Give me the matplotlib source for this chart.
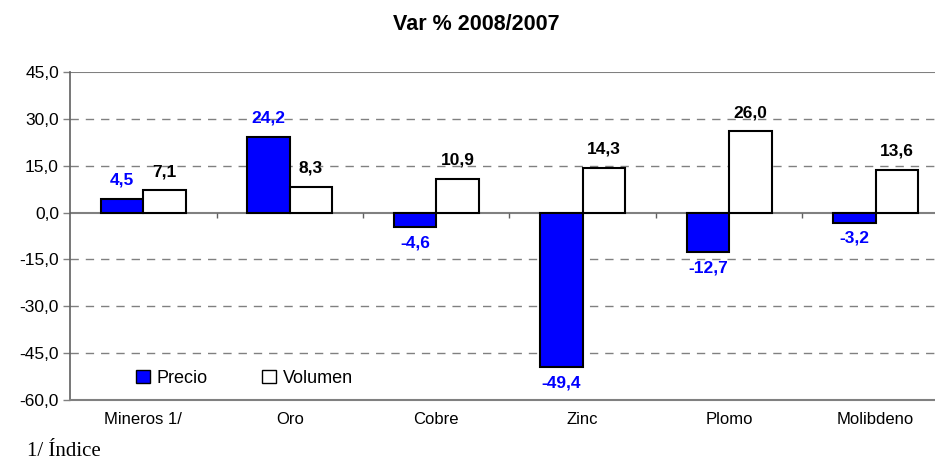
import matplotlib
matplotlib.use("Agg")
import matplotlib.pyplot as plt
import numpy as np
from matplotlib.patches import Patch

categories = ["Mineros 1/", "Oro", "Cobre", "Zinc", "Plomo", "Molibdeno"]
precio = [4.5, 24.2, -4.6, -49.4, -12.7, -3.2]
volumen = [7.1, 8.3, 10.9, 14.3, 26.0, 13.6]
yticks = [45, 30, 15, 0, -15, -30, -45, -60]
title = "Var % 2008/2007"
footnote = "1/ Índice"

plt.rcParams['font.family'] = ['Liberation Sans', 'DejaVu Sans']

W, H = 935, 468
fig = plt.figure(figsize=(W / 100, H / 100), dpi=100)
ax = fig.add_axes([70 / W, (H - 400) / H, 879 / W, 328 / H])

x = np.arange(len(categories))
bw = 0.29
blue = "#0000FF"
ax.bar(x - bw / 2, precio, bw, color=blue, edgecolor="black", linewidth=1.5, zorder=3)
ax.bar(x + bw / 2, volumen, bw, color="white", edgecolor="black", linewidth=1.5, zorder=3)

ax.set_xlim(-0.5, len(categories) - 0.5)
ax.set_ylim(-60, 45)
ax.set_yticks(yticks)
ax.set_yticklabels([f"{v:.1f}".replace(".", ",") for v in yticks], fontsize=12.5)
ax.set_xticks(x)
ax.set_xticklabels(categories, fontsize=12)
ax.tick_params(axis="x", length=0, pad=9)
ax.tick_params(axis="y", length=5, width=1, color="#808080", pad=3)

for v in [30, 15, -15, -30, -45]:
    ax.axhline(v, color="#808080", lw=1, ls=(0, (6, 5)), zorder=1)
ax.axhline(0, color="#808080", lw=1.5, zorder=2)
ax.axhline(45, color="#808080", lw=1.5, zorder=2)
for s in ["top", "right"]:
    ax.spines[s].set_visible(False)
ax.spines["bottom"].set_color("#808080")
ax.spines["bottom"].set_linewidth(1.5)
ax.spines["left"].set_color("#606060")
ax.spines["left"].set_linewidth(1.2)

# category separator ticks on zero line
bounds = np.arange(0.5, len(categories) - 0.5, 1.0)
ax.vlines(bounds, -1.8, 0, color="#606060", lw=1, zorder=2)

fmt = lambda v: f"{v:.1f}".replace(".", ",")
for xi, v in zip(x, precio):
    if v >= 0:
        ax.annotate(fmt(v), (xi - bw / 2, v), xytext=(0, 8),
                    textcoords="offset points", ha="center", va="bottom",
                    color=blue, fontsize=12.5, fontweight="bold", zorder=5)
    else:
        ax.annotate(fmt(v), (xi - bw / 2, v), xytext=(0, -6),
                    textcoords="offset points", ha="center", va="top",
                    color=blue, fontsize=12.5, fontweight="bold", zorder=5)
for xi, v in zip(x, volumen):
    ax.annotate(fmt(v), (xi + bw / 2, v), xytext=(0, 8),
                textcoords="offset points", ha="center", va="bottom",
                color="black", fontsize=12.5, fontweight="bold", zorder=5)

handles = [Patch(facecolor=blue, edgecolor="black", lw=1),
           Patch(facecolor="white", edgecolor="black", lw=1)]
ax.legend(handles, ["Precio", "Volumen"], loc="center left",
          bbox_to_anchor=(0.065, 0.067), ncol=2, frameon=False, fontsize=13,
          handlelength=0.75, handleheight=0.75, handletextpad=0.4, columnspacing=3.0,
          borderpad=0)

fig.text(476 / W, 1 - 25 / H, title, ha="center", va="center", fontsize=15.5, fontweight="bold")
fig.text(27 / W, 1 - 451 / H, footnote, ha="left", va="center", fontsize=15,
         family=["Liberation Serif", "DejaVu Serif"])

fig.savefig("out.png", dpi=100)
